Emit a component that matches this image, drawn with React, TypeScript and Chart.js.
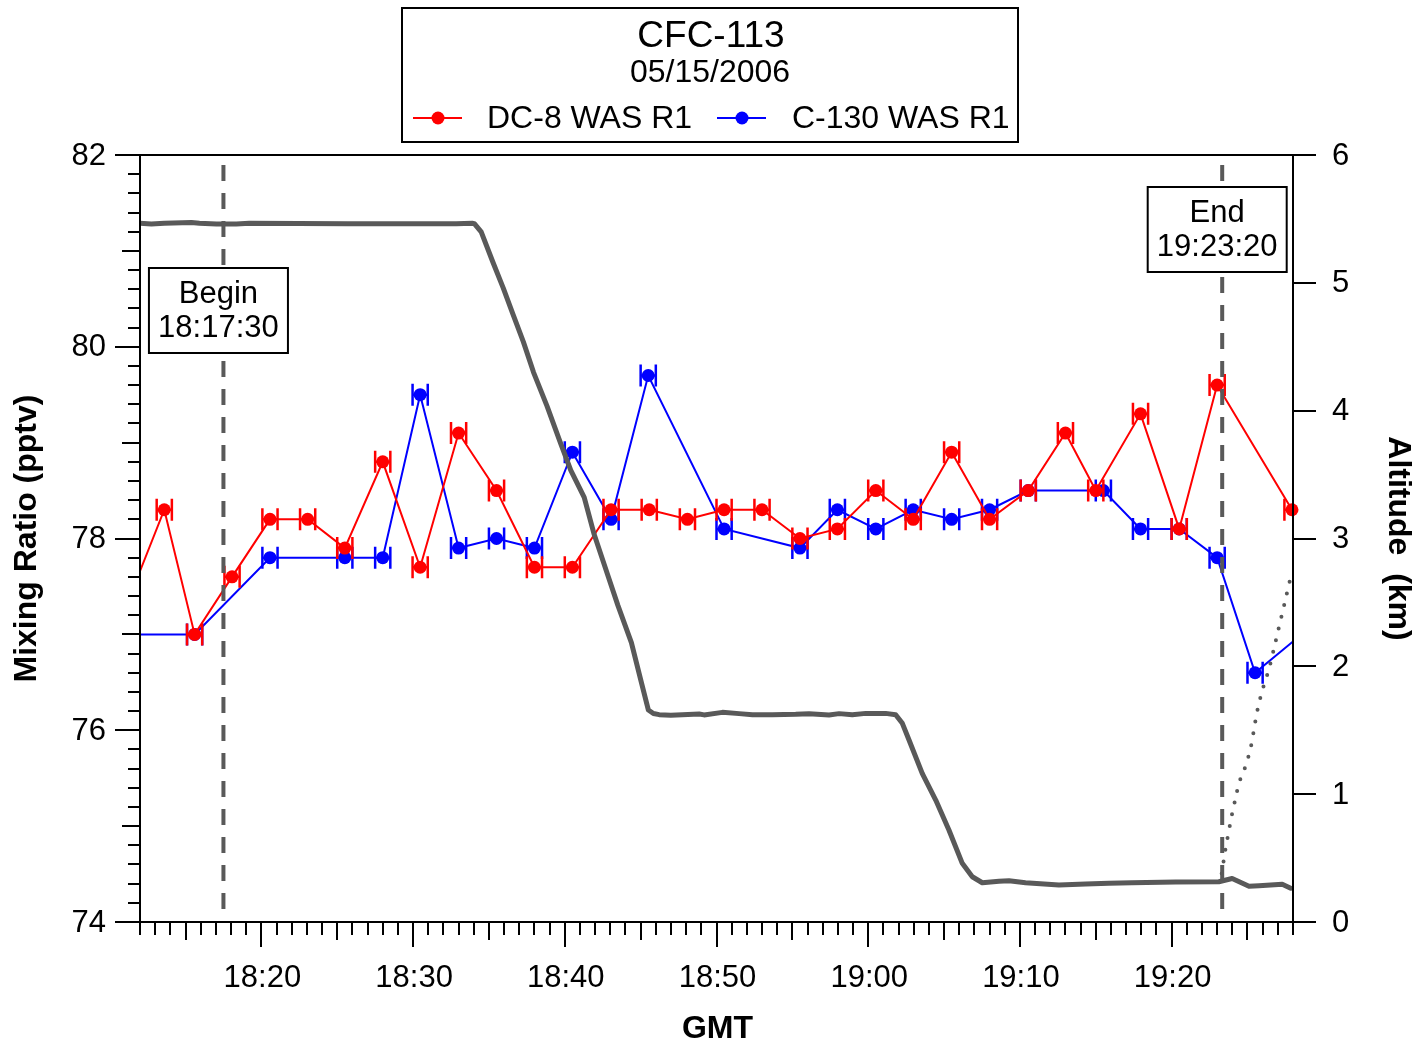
import React, { useEffect, useRef } from 'react';
import { Chart, registerables } from 'chart.js';

Chart.register(...registerables);

const FONT = '"Liberation Sans", Arial, Helvetica, sans-serif';

// ---------- data ----------
const chartTitle = 'CFC-113';
const chartDate = '05/15/2006';
const dc8Label = 'DC-8 WAS R1';
const c130Label = 'C-130 WAS R1';

const xMinTime = '18:12:00';
const xMaxTime = '19:28:00';
const xMajorTicks = ['18:20', '18:30', '18:40', '18:50', '19:00', '19:10', '19:20'];
const leftTicks = [74, 76, 78, 80, 82];
const rightTicks = [0, 1, 2, 3, 4, 5, 6];

const beginTime = '18:17:30';
const endTime = '19:23:20';

// sampling half-window (minutes) for horizontal error bars
const sampleHalfWidth = 0.5;

const dc8Times = ['18:11:06', '18:13:36', '18:15:36', '18:18:04', '18:20:34', '18:23:03', '18:25:30', '18:28:00', '18:30:28', '18:33:00', '18:35:30', '18:38:00', '18:40:30', '18:43:03', '18:45:34', '18:48:05', '18:50:30', '18:53:00', '18:55:30', '18:57:58', '19:00:30', '19:02:58', '19:05:30', '19:08:00', '19:10:33', '19:13:00', '19:15:00', '19:17:57', '19:20:30', '19:23:00', '19:27:56'];
const dc8Values = [77.3, 78.3, 77.0, 77.6, 78.2, 78.2, 77.9, 78.8, 77.7, 79.1, 78.5, 77.7, 77.7, 78.3, 78.3, 78.2, 78.3, 78.3, 78.0, 78.1, 78.5, 78.2, 78.9, 78.2, 78.5, 79.1, 78.5, 79.3, 78.1, 79.6, 78.3];

const c130Times = ['18:10:36', '18:15:36', '18:20:34', '18:25:30', '18:28:00', '18:30:28', '18:33:00', '18:35:30', '18:38:00', '18:40:30', '18:43:03', '18:45:30', '18:50:30', '18:55:30', '18:57:58', '19:00:30', '19:02:58', '19:05:30', '19:08:00', '19:10:33', '19:15:30', '19:17:57', '19:20:30', '19:23:00', '19:25:30', '19:30:30'];
const c130Values = [77.0, 77.0, 77.8, 77.8, 77.8, 79.5, 77.9, 78.0, 77.9, 78.9, 78.2, 79.7, 78.1, 77.9, 78.3, 78.1, 78.3, 78.2, 78.3, 78.5, 78.5, 78.1, 78.1, 77.8, 76.6, 77.25];

// DC-8 altitude (minutes after 18:00 GMT, km)
const altMinutes = [11.96, 12.75, 13.6, 15.39, 15.92, 17.04, 18.35, 19.2, 25.67, 30.74, 32.85, 33.9, 34.04, 34.49, 35.27, 35.94, 36.6, 37.27, 37.94, 38.83, 39.72, 40.39, 41.28, 41.94, 42.83, 43.5, 44.39, 45.06, 45.51, 45.84, 46.22, 46.99, 48.86, 49.18, 50.39, 51.49, 52.37, 53.68, 55.22, 56.1, 57.42, 58.08, 58.95, 59.84, 61.15, 61.81, 62.25, 62.69, 63.56, 64.45, 65.32, 66.2, 66.86, 67.52, 68.62, 69.28, 70.37, 72.57, 74.33, 75.86, 77.38, 80.26, 83.11, 83.99, 85.1, 85.76, 87.29, 87.85];
const altKm = [5.466, 5.46, 5.466, 5.472, 5.466, 5.46, 5.46, 5.466, 5.462, 5.462, 5.462, 5.466, 5.463, 5.398, 5.159, 4.961, 4.749, 4.538, 4.30, 4.036, 3.746, 3.534, 3.322, 3.031, 2.715, 2.477, 2.186, 1.869, 1.658, 1.631, 1.622, 1.618, 1.627, 1.62, 1.64, 1.63, 1.622, 1.622, 1.625, 1.63, 1.62, 1.63, 1.622, 1.632, 1.632, 1.622, 1.554, 1.424, 1.163, 0.954, 0.72, 0.459, 0.354, 0.307, 0.318, 0.322, 0.307, 0.29, 0.297, 0.303, 0.307, 0.312, 0.315, 0.34, 0.28, 0.284, 0.295, 0.264];

// C-130 ascent altitude (dotted), minutes after 18:00 GMT, km
const climbMinutes = [83.3, 83.57, 83.97, 84.43, 84.96, 85.28, 85.61, 85.94, 86.4, 86.6, 87.06, 87.39, 87.72, 87.9];
const climbKm = [0.38, 0.587, 0.837, 1.087, 1.244, 1.40, 1.635, 1.80, 1.97, 2.065, 2.30, 2.464, 2.636, 2.72];

// ---------- helpers ----------
const toMin = (s: string) => {
  const [h, m, sec] = s.split(':').map(Number);
  return (h - 18) * 60 + m + (sec || 0) / 60;
};

const RED = '#ff0000';
const BLUE = '#0000ff';
const GRAY = '#595959';

const customPlugin = {
  id: 'customDraw',
  afterDatasetDraw(chart: any, args: any) {
    const ds: any = chart.data.datasets[args.index];
    if (!ds.errX) return;
    const { ctx, chartArea: ca } = chart;
    const xs = chart.scales.x;
    const ys = chart.scales[ds.yAxisID];
    ctx.save();
    ctx.beginPath();
    ctx.rect(ca.left, ca.top, ca.right - ca.left, ca.bottom - ca.top);
    ctx.clip();
    ctx.strokeStyle = ds.borderColor;
    ctx.lineWidth = 2.5;
    ds.data.forEach((p: any) => {
      const x0 = xs.getPixelForValue(p.x - ds.errX);
      const x1 = xs.getPixelForValue(p.x + ds.errX);
      const y = ys.getPixelForValue(p.y);
      ctx.beginPath();
      ctx.moveTo(x0, y);
      ctx.lineTo(x1, y);
      ctx.moveTo(x0, y - 11);
      ctx.lineTo(x0, y + 11);
      ctx.moveTo(x1, y - 11);
      ctx.lineTo(x1, y + 11);
      ctx.stroke();
    });
    ctx.restore();
  },
  afterDatasetsDraw(chart: any) {
    const { ctx, chartArea: ca } = chart;
    const xs = chart.scales.x;
    ctx.save();
    // dashed begin / end lines
    ctx.strokeStyle = GRAY;
    ctx.lineWidth = 4;
    ctx.setLineDash([16, 12]);
    [beginTime, endTime].forEach((t) => {
      const x = xs.getPixelForValue(toMin(t));
      ctx.beginPath();
      ctx.moveTo(x, ca.top + 10);
      ctx.lineTo(x, ca.bottom);
      ctx.stroke();
    });
    ctx.setLineDash([]);
    // annotation boxes
    const box = (t: string, label: string, top: number) => {
      const cx = xs.getPixelForValue(toMin(t)) - 5;
      const w = 139;
      const h = 85;
      ctx.fillStyle = '#ffffff';
      ctx.fillRect(cx - w / 2, top, w, h);
      ctx.strokeStyle = '#000';
      ctx.lineWidth = 2;
      ctx.strokeRect(cx - w / 2, top, w, h);
      ctx.fillStyle = '#000';
      ctx.font = `31px ${FONT}`;
      ctx.textAlign = 'center';
      ctx.textBaseline = 'middle';
      ctx.fillText(label, cx, top + 26);
      ctx.fillText(t, cx, top + 60);
    };
    box(beginTime, 'Begin', 268);
    box(endTime, 'End', 187);
    ctx.restore();
  },
  afterDraw(chart: any) {
    const { ctx, chartArea: ca } = chart;
    const xs = chart.scales.x;
    const yl = chart.scales.y;
    const yr = chart.scales.y2;
    ctx.save();
    ctx.strokeStyle = '#000';
    ctx.lineWidth = 2;
    ctx.beginPath();
    // frame
    ctx.moveTo(ca.left, ca.top);
    ctx.lineTo(ca.left, ca.bottom);
    ctx.moveTo(ca.right, ca.top);
    ctx.lineTo(ca.right, ca.bottom);
    ctx.moveTo(ca.left - 25, ca.top);
    ctx.lineTo(ca.right + 23, ca.top);
    ctx.moveTo(ca.left - 25, ca.bottom);
    ctx.lineTo(ca.right + 23, ca.bottom);
    // left ticks every 0.2
    const yMin = leftTicks[0];
    const yMax = leftTicks[leftTicks.length - 1];
    const nMinor = Math.round((yMax - yMin) / 0.2);
    for (let k = 0; k <= nMinor; k++) {
      const v = yMin + k * 0.2;
      const y = Math.round(yl.getPixelForValue(v));
      const len = k % 10 === 0 ? 25 : k % 5 === 0 ? 18 : 12;
      ctx.moveTo(ca.left - len, y);
      ctx.lineTo(ca.left + 1, y);
    }
    // right ticks
    rightTicks.forEach((v) => {
      const y = Math.round(yr.getPixelForValue(v));
      ctx.moveTo(ca.right, y);
      ctx.lineTo(ca.right + 23, y);
    });
    // bottom ticks every minute
    const m0 = Math.ceil(toMin(xMinTime));
    const m1 = Math.floor(toMin(xMaxTime));
    for (let m = m0; m <= m1; m++) {
      const x = Math.round(xs.getPixelForValue(m));
      const len = m % 10 === 0 ? 25 : m % 5 === 0 ? 18 : 13;
      ctx.moveTo(x, ca.bottom - 1);
      ctx.lineTo(x, ca.bottom + len);
    }
    ctx.stroke();

    // tick labels
    ctx.fillStyle = '#000';
    ctx.font = `31px ${FONT}`;
    ctx.textBaseline = 'middle';
    ctx.textAlign = 'right';
    leftTicks.forEach((v) => ctx.fillText(String(v), ca.left - 34, yl.getPixelForValue(v) + 1));
    ctx.textAlign = 'left';
    rightTicks.forEach((v) => ctx.fillText(String(v), ca.right + 39, yr.getPixelForValue(v) + 1));
    ctx.textAlign = 'center';
    xMajorTicks.forEach((t) => ctx.fillText(t, xs.getPixelForValue(toMin(t)) + 1, ca.bottom + 56));

    // axis titles
    ctx.font = `bold 32px ${FONT}`;
    ctx.fillText('GMT', (ca.left + ca.right) / 2 + 1, ca.bottom + 107);
    ctx.save();
    ctx.translate(27, (ca.top + ca.bottom) / 2);
    ctx.rotate(-Math.PI / 2);
    ctx.fillText('Mixing Ratio (pptv)', 0, 0);
    ctx.restore();
    ctx.save();
    ctx.translate(1398, (ca.top + ca.bottom) / 2);
    ctx.rotate(Math.PI / 2);
    ctx.fillText('Altitude  (km)', 0, 0);
    ctx.restore();

    // title / legend box
    ctx.lineWidth = 2;
    ctx.strokeRect(402, 8, 616, 134);
    ctx.font = `37px ${FONT}`;
    ctx.fillText(chartTitle, 711, 37);
    ctx.font = `32px ${FONT}`;
    ctx.fillText(chartDate, 710, 73);
    const legendItem = (x: number, color: string, label: string, tx: number) => {
      ctx.strokeStyle = color;
      ctx.lineWidth = 2;
      ctx.beginPath();
      ctx.moveTo(x, 118);
      ctx.lineTo(x + 49, 118);
      ctx.stroke();
      ctx.fillStyle = color;
      ctx.beginPath();
      ctx.arc(x + 25, 118, 6.5, 0, Math.PI * 2);
      ctx.fill();
      ctx.fillStyle = '#000';
      ctx.textAlign = 'left';
      ctx.font = `32px ${FONT}`;
      ctx.fillText(label, tx, 119);
    };
    legendItem(413, RED, dc8Label, 487);
    legendItem(717, BLUE, c130Label, 792);
    ctx.restore();
  },
};

export default function App() {
  const ref = useRef<HTMLCanvasElement>(null);
  useEffect(() => {
    document.body.style.margin = '0';
    document.body.style.overflow = 'hidden';
    const dc8Data = dc8Times.map((t, i) => ({ x: toMin(t), y: dc8Values[i] }));
    const c130Data = c130Times.map((t, i) => ({ x: toMin(t), y: c130Values[i] }));
    const altData = altMinutes.map((m, i) => ({ x: m, y: altKm[i] }));
    const climbData = climbMinutes.map((m, i) => ({ x: m, y: climbKm[i] }));
    const chart = new Chart(ref.current as HTMLCanvasElement, {
      type: 'line',
      data: {
        datasets: [
          {
            label: 'Altitude',
            data: altData,
            yAxisID: 'y2',
            borderColor: GRAY,
            borderWidth: 5,
            borderJoinStyle: 'round',
            borderCapStyle: 'round',
            pointRadius: 0,
            tension: 0,
          } as any,
          {
            label: 'Climb',
            data: climbData,
            yAxisID: 'y2',
            borderColor: GRAY,
            borderWidth: 4,
            borderDash: [0, 12],
            borderCapStyle: 'round',
            pointRadius: 0,
            tension: 0,
          } as any,
          {
            label: dc8Label,
            data: dc8Data,
            yAxisID: 'y',
            borderColor: RED,
            backgroundColor: RED,
            borderWidth: 2,
            pointRadius: 6.5,
            pointBackgroundColor: RED,
            pointBorderColor: RED,
            pointBorderWidth: 0,
            errX: sampleHalfWidth,
            clip: { left: 0, top: false, right: 12, bottom: false },
          } as any,
          {
            label: c130Label,
            data: c130Data,
            yAxisID: 'y',
            borderColor: BLUE,
            backgroundColor: BLUE,
            borderWidth: 2,
            pointRadius: 6.5,
            pointBackgroundColor: BLUE,
            pointBorderColor: BLUE,
            pointBorderWidth: 0,
            errX: sampleHalfWidth,
            clip: { left: 0, top: false, right: 0, bottom: false },
          } as any,
        ],
      },
      options: {
        responsive: false,
        animation: false,
        devicePixelRatio: 1,
        events: [],
        layout: { padding: { left: 140, right: 126, top: 155, bottom: 123 } },
        plugins: { legend: { display: false }, title: { display: false }, tooltip: { enabled: false } },
        scales: {
          x: { type: 'linear', min: toMin(xMinTime), max: toMin(xMaxTime), display: false },
          y: { type: 'linear', position: 'left', min: leftTicks[0], max: leftTicks[leftTicks.length - 1], display: false },
          y2: { type: 'linear', position: 'right', min: rightTicks[0], max: rightTicks[rightTicks.length - 1], display: false },
        },
      } as any,
      plugins: [customPlugin],
    });
    return () => chart.destroy();
  }, []);
  return <canvas ref={ref} width={1419} height={1045} style={{ display: 'block', width: 1419, height: 1045 }} />;
}
